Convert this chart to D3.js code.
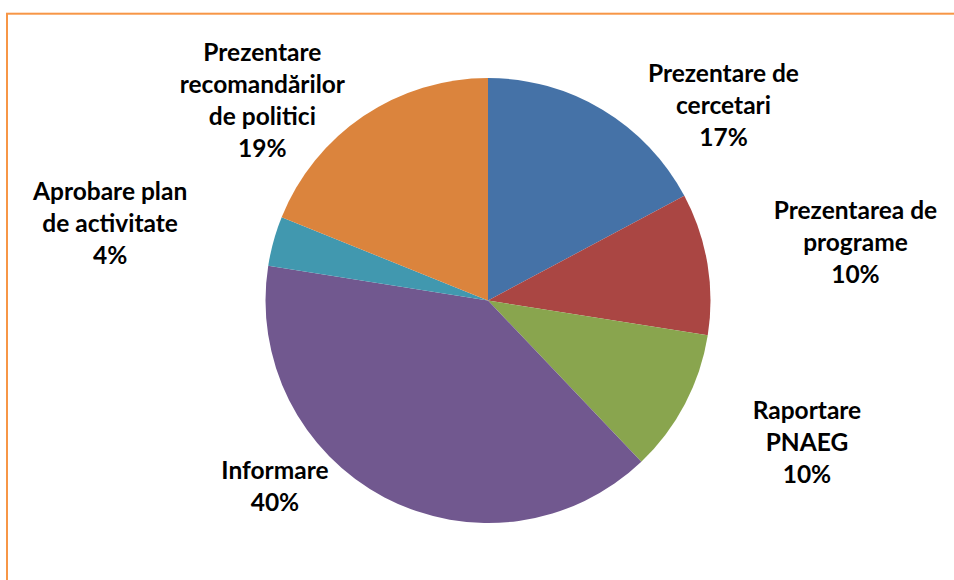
<!DOCTYPE html>
<html>
<head>
<meta charset="utf-8">
<script src="https://cdn.jsdelivr.net/npm/d3@7"></script>
<style>
  html, body { margin: 0; padding: 0; background: #fff; }
  svg { display: block; }
</style>
</head>
<body>
<div id="container"></div>
<script>
// slice names (one entry per label line) and shares, clockwise from 12 o'clock
const categories = [
	['Prezentare de', 'cercetari'],
	['Prezentarea de', 'programe'],
	['Raportare', 'PNAEG'],
	['Informare'],
	['Aprobare plan', 'de activitate'],
	['Prezentare', 'recomandărilor', 'de politici']
];
const shares = [17.2, 10.3, 10.4, 39.6, 3.6, 18.9];
const colors = ['#4572A7', '#AA4643', '#89A54E', '#71588F', '#4198AF', '#DB843D'];

const width = 954;
const height = 580;
const cx = 488;
const cy = 300.5;
const radius = 222.5;
const labelRadius = radius + 70;
const lineHeight = 32;
// Excel-like shift of each label block from its outer centroid
const labelNudge = [[85, 55], [79, -10], [60, 5], [-77, -73], [-96, 1], [-62, 42]];

const svg = d3.select('#container').append('svg')
	.attr('width', width)
	.attr('height', height);

svg.append('rect')
	.attr('x', 7)
	.attr('y', 13.7)
	.attr('width', width + 20)
	.attr('height', height + 20)
	.attr('fill', 'none')
	.attr('stroke', '#F79646')
	.attr('stroke-width', 2);

const rows = categories.map((c, i) => ({ lines: c, value: shares[i], color: colors[i] }));
const total = d3.sum(shares);

const pie = d3.pie()
	.value(d => d.value)
	.sort(null);

const arc = d3.arc()
	.innerRadius(0)
	.outerRadius(radius);

const outerArc = d3.arc()
	.innerRadius(labelRadius)
	.outerRadius(labelRadius);

const arcs = pie(rows);

const g = svg.append('g')
	.attr('transform', `translate(${cx},${cy})`);

g.selectAll('path.slice')
	.data(arcs).enter()
	.append('path')
	.attr('class', 'slice')
	.attr('d', arc)
	.attr('fill', d => d.data.color);

const labels = g.selectAll('text.label')
	.data(arcs).enter()
	.append('text')
	.attr('class', 'label')
	.attr('text-anchor', 'middle')
	.attr('font-family', 'Lato, "Open Sans", sans-serif')
	.attr('font-weight', 700)
	.attr('font-size', 24.5)
	.attr('fill', '#000')
	.attr('transform', (d, i) => {
		const [x, y] = outerArc.centroid(d);
		return `translate(${x + labelNudge[i][0]},${y + labelNudge[i][1]})`;
	});

labels.each(function(d) {
	const lines = d.data.lines.concat([Math.round(d.data.value / total * 100) + '%']);
	const top = -(lines.length - 1) * lineHeight / 2 + 9;
	d3.select(this).selectAll('tspan')
		.data(lines).enter()
		.append('tspan')
		.attr('x', 0)
		.attr('y', (t, j) => top + j * lineHeight)
		.text(t => t);
});
</script>
</body>
</html>
